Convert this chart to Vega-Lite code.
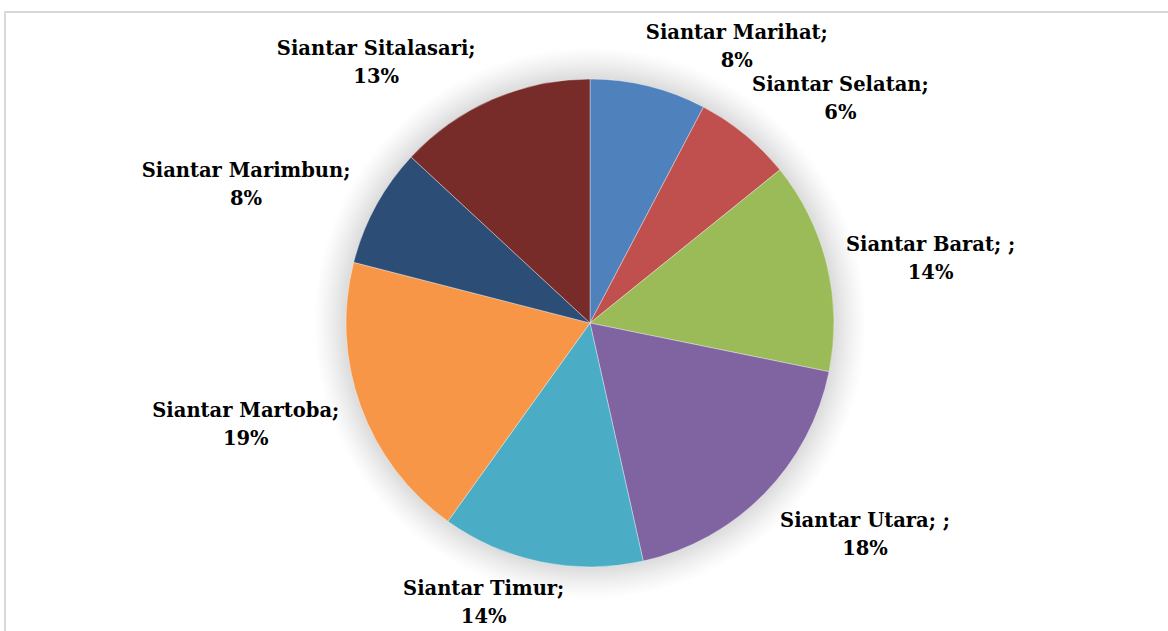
{
  "$schema": "https://vega.github.io/schema/vega-lite/v6.json",
  "width": 1170,
  "height": 622,
  "padding": {"left": 5, "top": 12, "right": 0, "bottom": 0},
  "autosize": {"type": "none"},
  "background": "white",
  "view": {"stroke": "#d9d9d9", "strokeWidth": 2},
  "config": {
    "text": {"font": "DejaVu Serif", "fontWeight": "bold", "fontSize": 19.5, "lineHeight": 28, "lineBreak": "\n", "color": "#000000", "align": "center"}
  },
  "data": {
    "values": [
      {"name": "Siantar Marihat", "label": "Siantar Marihat;\n8%", "value": 7.7, "order": 1},
      {"name": "Siantar Selatan", "label": "Siantar Selatan;\n6%", "value": 6.5, "order": 2},
      {"name": "Siantar Barat", "label": "Siantar Barat; ;\n14%", "value": 14.0, "order": 3},
      {"name": "Siantar Utara", "label": "Siantar Utara; ;\n18%", "value": 18.3, "order": 4},
      {"name": "Siantar Timur", "label": "Siantar Timur;\n14%", "value": 13.4, "order": 5},
      {"name": "Siantar Martoba", "label": "Siantar Martoba;\n19%", "value": 19.1, "order": 6},
      {"name": "Siantar Marimbun", "label": "Siantar Marimbun;\n8%", "value": 7.9, "order": 7},
      {"name": "Siantar Sitalasari", "label": "Siantar Sitalasari;\n13%", "value": 13.1, "order": 8}
    ]
  },
  "layer": [
    {
      "mark": {
        "type": "arc",
        "radius": 276,
        "fill": {
          "gradient": "radial",
          "x1": 0.5, "y1": 0.5, "r1": 0,
          "x2": 0.5, "y2": 0.5, "r2": 0.5,
          "stops": [
            {"offset": 0, "color": "#d6d6d6"},
            {"offset": 0.88, "color": "#dadada"},
            {"offset": 0.93, "color": "#ececec"},
            {"offset": 0.97, "color": "#f8f8f8"},
            {"offset": 1, "color": "#ffffff"}
          ]
        }
      },
      "encoding": {
        "theta": {"aggregate": "sum", "field": "value", "type": "quantitative", "stack": true}
      }
    },
    {
      "mark": {"type": "arc", "radius": 244, "stroke": "#ffffff", "strokeWidth": 0.6, "strokeOpacity": 0.6},
      "encoding": {
        "theta": {"field": "value", "type": "quantitative", "stack": true},
        "order": {"field": "order", "type": "quantitative"},
        "color": {
          "field": "name",
          "type": "nominal",
          "legend": null,
          "scale": {
            "domain": ["Siantar Marihat", "Siantar Selatan", "Siantar Barat", "Siantar Utara", "Siantar Timur", "Siantar Martoba", "Siantar Marimbun", "Siantar Sitalasari"],
            "range": ["#4f81bd", "#c0504d", "#9bbb59", "#8064a2", "#4bacc6", "#f79646", "#2c4d75", "#772c2a"]
          }
        }
      }
    },
    {
      "mark": {"type": "text", "radius": 262, "baseline": "bottom", "dx": 84, "dy": -26},
      "encoding": {
        "theta": {"field": "value", "type": "quantitative", "stack": true},
        "order": {"field": "order", "type": "quantitative"},
        "text": {"condition": {"test": "datum.name === 'Siantar Marihat' || datum.name === 'Siantar Selatan'", "field": "label"}, "value": ""}
      }
    },
    {
      "mark": {"type": "text", "radius": 262, "baseline": "middle", "dx": 86, "dy": -16},
      "encoding": {
        "theta": {"field": "value", "type": "quantitative", "stack": true},
        "order": {"field": "order", "type": "quantitative"},
        "text": {"condition": {"test": "datum.name === 'Siantar Barat'", "field": "label"}, "value": ""}
      }
    },
    {
      "mark": {"type": "text", "radius": 262, "baseline": "top", "dx": 88, "dy": 5},
      "encoding": {
        "theta": {"field": "value", "type": "quantitative", "stack": true},
        "order": {"field": "order", "type": "quantitative"},
        "text": {"condition": {"test": "datum.name === 'Siantar Utara'", "field": "label"}, "value": ""}
      }
    },
    {
      "mark": {"type": "text", "radius": 262, "baseline": "top", "dx": -54},
      "encoding": {
        "theta": {"field": "value", "type": "quantitative", "stack": true},
        "order": {"field": "order", "type": "quantitative"},
        "text": {"condition": {"test": "datum.name === 'Siantar Timur'", "field": "label"}, "value": ""}
      }
    },
    {
      "mark": {"type": "text", "radius": 262, "baseline": "middle", "dx": -98, "dy": -2},
      "encoding": {
        "theta": {"field": "value", "type": "quantitative", "stack": true},
        "order": {"field": "order", "type": "quantitative"},
        "text": {"condition": {"test": "datum.name === 'Siantar Martoba'", "field": "label"}, "value": ""}
      }
    },
    {
      "mark": {"type": "text", "radius": 262, "baseline": "middle", "dx": -114, "dy": -27},
      "encoding": {
        "theta": {"field": "value", "type": "quantitative", "stack": true},
        "order": {"field": "order", "type": "quantitative"},
        "text": {"condition": {"test": "datum.name === 'Siantar Marimbun'", "field": "label"}, "value": ""}
      }
    },
    {
      "mark": {"type": "text", "radius": 262, "baseline": "bottom", "dx": -109, "dy": -24},
      "encoding": {
        "theta": {"field": "value", "type": "quantitative", "stack": true},
        "order": {"field": "order", "type": "quantitative"},
        "text": {"condition": {"test": "datum.name === 'Siantar Sitalasari'", "field": "label"}, "value": ""}
      }
    }
  ]
}
